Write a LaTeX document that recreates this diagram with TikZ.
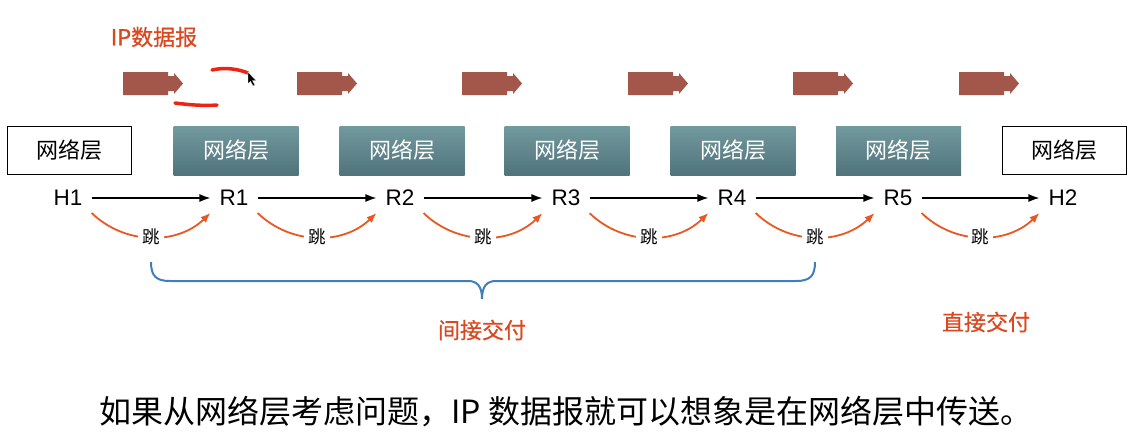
\documentclass[tikz,border=0pt]{standalone}
\usepackage{fontspec}
\setmainfont{Liberation Sans}
\newfontfamily\cjk{Noto Sans CJK SC}
\newfontfamily\cjkm[FakeBold=0.8]{Noto Sans CJK SC}
\usepackage{tikz}
\usetikzlibrary{arrows.meta}
\definecolor{dg_brown}{RGB}{163, 86, 74}
\definecolor{nl_top}{RGB}{114, 154, 158}
\definecolor{nl_bot}{RGB}{80, 115, 124}
\definecolor{hop_orange}{RGB}{232, 88, 35}
\definecolor{note_red}{RGB}{218, 72, 32}
\definecolor{brace_blue}{RGB}{66, 126, 186}
\definecolor{pen_red}{RGB}{236, 36, 20}
\tikzstyle{hb}=[rectangle,draw=black,fill=white,line width=1.5pt,
  minimum width=124pt,minimum height=48pt,font=\cjk\fontsize{22}{26}\selectfont]
\tikzstyle{rb}=[rectangle,top color=nl_top,bottom color=nl_bot,draw=none,text=white,
  minimum width=125pt,minimum height=49pt,font=\cjk\fontsize{22}{26}\selectfont]
\tikzstyle{sta}=[inner xsep=9pt,inner ysep=7pt,font=\fontsize{22.5}{26}\selectfont]
\tikzstyle{fwd}=[-{Latex[length=11pt,width=8pt]},line width=1.4pt,black]
\tikzstyle{jump}=[-{Latex[length=10pt,width=8pt]},line width=1.8pt,hop_orange]
\tikzstyle{jl}=[fill=white,inner sep=4pt,text=black,font=\cjk\fontsize{17.5}{20}\selectfont]
\tikzstyle{note}=[text=note_red,font=\cjkm\fontsize{22}{26}\selectfont]
\tikzstyle{dgram}=[fill=dg_brown]
\tikzstyle{pen}=[draw=pen_red,line width=3.5pt,line cap=round]

\begin{document}
\begin{tikzpicture}[x=1pt,y=-1pt]
    \useasboundingbox (0,0) rectangle (1139,436);
    \node [style=note] (ipd) at (154,37) {IP数据报};
    \fill [style=dgram,shift={(123,72)}] (0,0) -- (45,0) -- (45,4) -- (51,4) -- (51,1) -- (60,11.5) -- (51,22) -- (51,19) -- (45,19) -- (45,23) -- (0,23) -- cycle;
    \fill [style=dgram,shift={(297,72)}] (0,0) -- (45,0) -- (45,4) -- (51,4) -- (51,1) -- (60,11.5) -- (51,22) -- (51,19) -- (45,19) -- (45,23) -- (0,23) -- cycle;
    \fill [style=dgram,shift={(462,72)}] (0,0) -- (45,0) -- (45,4) -- (51,4) -- (51,1) -- (60,11.5) -- (51,22) -- (51,19) -- (45,19) -- (45,23) -- (0,23) -- cycle;
    \fill [style=dgram,shift={(628,72)}] (0,0) -- (45,0) -- (45,4) -- (51,4) -- (51,1) -- (60,11.5) -- (51,22) -- (51,19) -- (45,19) -- (45,23) -- (0,23) -- cycle;
    \fill [style=dgram,shift={(793,72)}] (0,0) -- (45,0) -- (45,4) -- (51,4) -- (51,1) -- (60,11.5) -- (51,22) -- (51,19) -- (45,19) -- (45,23) -- (0,23) -- cycle;
    \fill [style=dgram,shift={(959,72)}] (0,0) -- (45,0) -- (45,4) -- (51,4) -- (51,1) -- (60,11.5) -- (51,22) -- (51,19) -- (45,19) -- (45,23) -- (0,23) -- cycle;
    \draw [style=pen] (212,70) .. controls (225,67) and (238,69) .. (248,73);
    \draw [style=pen] (175,103) .. controls (190,105) and (205,106) .. (217,105);
    \fill [black,draw=white,line width=0.4pt] (248,72) -- (248,84) -- (250.5,81.5) -- (253,86) -- (255,85) -- (252.5,80.5) -- (256,80.5) -- cycle;
    \node [style=hb] (nl0) at (69.5,150.5) {网络层};
    \node [style=rb] (nl1) at (236,150.5) {网络层};
    \node [style=rb] (nl2) at (402,150.5) {网络层};
    \node [style=rb] (nl3) at (567,150.5) {网络层};
    \node [style=rb] (nl4) at (733,150.5) {网络层};
    \node [style=rb] (nl5) at (898.5,150.5) {网络层};
    \node [style=hb] (nl6) at (1064.5,150.5) {网络层};
    \node [style=sta] (h1) at (68,198) {H1};
    \node [style=sta] (r1) at (234,198) {R1};
    \node [style=sta] (r2) at (400,198) {R2};
    \node [style=sta] (r3) at (566,198) {R3};
    \node [style=sta] (r4) at (732,198) {R4};
    \node [style=sta] (r5) at (898,198) {R5};
    \node [style=sta] (h2) at (1063,198) {H2};
    \draw [style=fwd] (h1) to (r1);
    \draw [style=fwd] (r1) to (r2);
    \draw [style=fwd] (r2) to (r3);
    \draw [style=fwd] (r3) to (r4);
    \draw [style=fwd] (r4) to (r5);
    \draw [style=fwd] (r5) to (h2);
    \draw [style=jump] (h1.south east) to [bend right=44] node [style=jl] {跳} (r1.south west);
    \draw [style=jump] (r1.south east) to [bend right=44] node [style=jl] {跳} (r2.south west);
    \draw [style=jump] (r2.south east) to [bend right=44] node [style=jl] {跳} (r3.south west);
    \draw [style=jump] (r3.south east) to [bend right=44] node [style=jl] {跳} (r4.south west);
    \draw [style=jump] (r4.south east) to [bend right=44] node [style=jl] {跳} (r5.south west);
    \draw [style=jump] (r5.south east) to [bend right=44] node [style=jl] {跳} (h2.south west);
    \draw [brace_blue,line width=2pt] (151,262) .. controls (151,276) and (156,281) .. (170,281) -- (468,281) .. controls (477,281) and (482,286) .. (482,299) .. controls (482,286) and (487,281) .. (496,281) -- (796,281) .. controls (810,281) and (815,276) .. (815,262);
    \node [style=note] (indirect) at (482,330) {间接交付};
    \node [style=note] (direct) at (986,322) {直接交付};
    \node [font=\cjk\fontsize{32}{36}\selectfont] (caption) at (566,412) {如果从网络层考虑问题，IP 数据报就可以想象是在网络层中传送。};
  \end{tikzpicture}
\end{document}
